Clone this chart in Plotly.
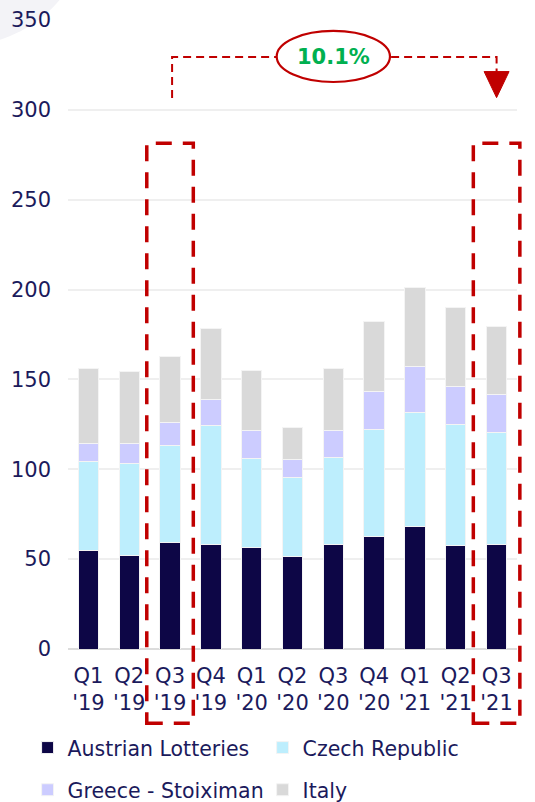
import plotly.graph_objects as go

# Quarterly revenue by segment (stacked)
quarters = ["Q1<br>'19", "Q2<br>'19", "Q3<br>'19", "Q4<br>'19",
            "Q1<br>'20", "Q2<br>'20", "Q3<br>'20", "Q4<br>'20",
            "Q1<br>'21", "Q2<br>'21", "Q3<br>'21"]
austrian_lotteries = [54.7, 52.3, 59.5, 58.0, 56.4, 51.2, 57.9, 62.5, 68.1, 57.5, 57.9]
czech_republic = [49.4, 50.8, 54.0, 66.3, 49.7, 44.5, 48.4, 59.4, 63.4, 67.2, 62.3]
greece_stoiximan = [10.2, 11.0, 12.3, 14.4, 15.4, 9.7, 15.2, 21.3, 25.6, 21.3, 21.3]
italy = [41.9, 40.2, 36.9, 39.9, 33.6, 18.0, 34.7, 38.8, 44.2, 43.9, 37.7]

growth_label = "10.1%"
y_ticks = [0, 50, 100, 150, 200, 250, 300, 350]

TEXT = "#1b1a5c"
RED = "#c00000"
FONT = "DejaVu Sans"

series = [
    ("Austrian Lotteries", austrian_lotteries, "#0d0646", "legend"),
    ("Czech Republic", czech_republic, "#bdeefd", "legend"),
    ("Greece - Stoiximan", greece_stoiximan, "#ccccff", "legend2"),
    ("Italy", italy, "#d9d9d9", "legend2"),
]

fig = go.Figure()
for name, vals, color, leg in series:
    fig.add_trace(go.Bar(
        x=quarters, y=vals, name=name, legend=leg,
        marker=dict(color=color, line=dict(color="#f4f4f4", width=1)),
        width=0.5,
    ))

n = len(quarters)
y_max = 350


def xd(i, off=0.0):
    """Category index -> x-domain fraction."""
    return (i + 0.5 + off) / n


def yd(v):
    """Data value -> y-domain fraction."""
    return v / y_max


shapes = []

# faint decorative disc in the top-left corner
shapes.append(dict(type="circle", xref="paper", yref="paper",
                   x0=-0.532, x1=0.051, y0=0.9587, y1=1.375,
                   fillcolor="#f3f3f7", line=dict(width=0), layer="below"))

# dashed boxes around the compared quarters
i_start, i_end = 2, 10
for i in (i_start, i_end):
    shapes.append(dict(type="rect", xref="x domain", yref="y domain",
                       x0=xd(i, -0.57), x1=xd(i, 0.57),
                       y0=-0.118, y1=0.804,
                       line=dict(color=RED, width=3.5, dash="16px,11px"),
                       fillcolor="rgba(0,0,0,0)", layer="above"))

# connector from Q3 '19 to Q3 '21
conn_y, conn_low = 329.4, 306.6
shapes.append(dict(type="path", xref="x domain", yref="y domain",
                   path=(f"M{xd(i_start, 0.05)},{yd(conn_low)} L{xd(i_start, 0.05)},{yd(conn_y)} "
                         f"L{xd(i_end)},{yd(conn_y)} L{xd(i_end)},{yd(321.3)}"),
                   line=dict(color=RED, width=2, dash="8px,5px"), layer="above"))
# arrow head
hw = 0.0278
shapes.append(dict(type="path", xref="x domain", yref="y domain",
                   path=(f"M{xd(i_end) - hw},{yd(321.3)} L{xd(i_end) + hw},{yd(321.3)} "
                         f"L{xd(i_end)},{yd(306.8)} Z"),
                   fillcolor=RED, line=dict(color=RED, width=1), layer="above"))
# ellipse around the growth label
shapes.append(dict(type="circle", xref="x domain", yref="y domain",
                   x0=0.4648, x1=0.7171, y0=yd(315.5), y1=yd(343.9),
                   fillcolor="white", line=dict(color=RED, width=2.2), layer="above"))

legend_style = dict(orientation="h", xanchor="left", yanchor="middle",
                    entrywidth=190, entrywidthmode="pixels",
                    font=dict(size=20.5, color=TEXT), traceorder="normal",
                    bgcolor="rgba(0,0,0,0)")

fig.update_layout(
    barmode="stack",
    width=535, height=802,
    margin=dict(l=68, r=18, t=20, b=153, autoexpand=False),
    paper_bgcolor="white", plot_bgcolor="white",
    font=dict(family=FONT, color=TEXT, size=20),
    shapes=shapes,
    annotations=[dict(xref="x domain", yref="y domain",
                      x=0.5915, y=yd(conn_y), xanchor="center", yanchor="middle",
                      text=f"<b>{growth_label}</b>",
                      showarrow=False, font=dict(family=FONT, size=21, color="#00b050"))],
    xaxis=dict(showgrid=False, showline=False, ticks="", automargin=False,
               tickfont=dict(size=21, color=TEXT), ticklabelstandoff=12),
    yaxis=dict(range=[0, y_max], tickvals=y_ticks, showgrid=True, automargin=False,
               gridcolor="#efefef", gridwidth=1.5,
               zeroline=True, zerolinecolor="#dcdcdc", zerolinewidth=2,
               ticks="", tickfont=dict(size=21, color=TEXT), ticklabelstandoff=16),
    legend=dict(x=-0.09, y=-0.157, **legend_style),
    legend2=dict(x=-0.09, y=-0.224, **legend_style),
    showlegend=True,
)

fig.write_html("out.html")
